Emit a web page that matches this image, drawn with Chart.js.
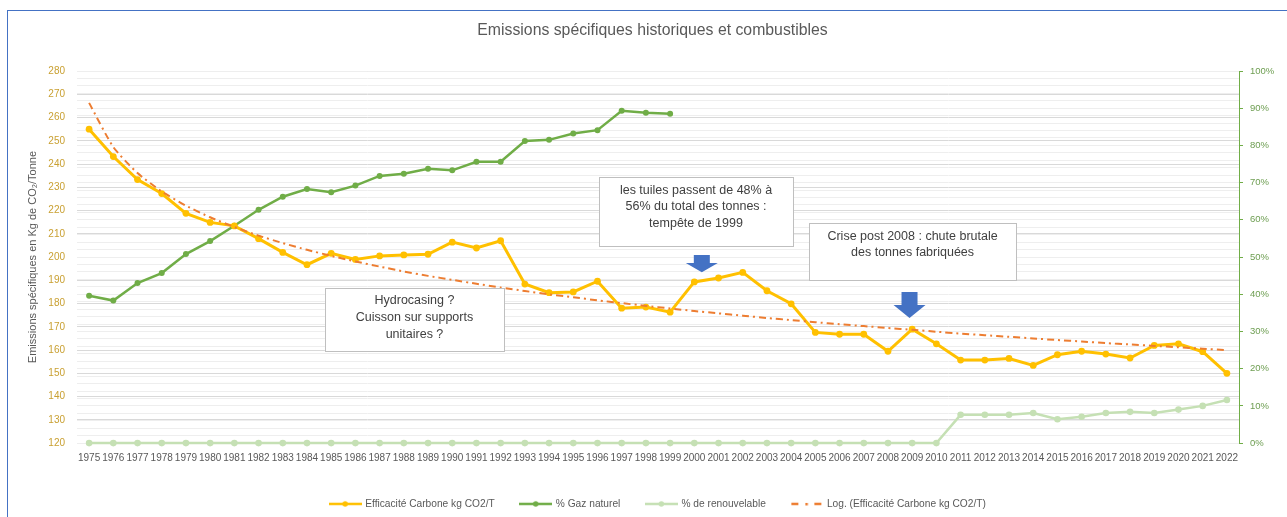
<!DOCTYPE html>
<html><head><meta charset="utf-8">
<script src="https://cdn.jsdelivr.net/npm/chart.js@4"></script>
<style>
html,body{margin:0;padding:0;background:#fff;overflow:hidden;}
#wrap{position:relative;width:1287px;height:517px;overflow:hidden;}
#frame{position:absolute;left:7px;top:10px;width:1400px;height:600px;border-left:1.5px solid #4472C4;border-top:1.5px solid #4472C4;pointer-events:none;}
canvas{position:absolute;left:0;top:0;}
</style></head><body>
<div id="wrap"><canvas id="c" width="1287" height="519"></canvas><div id="frame"></div></div>
<script>
const years = ['1975','1976','1977','1978','1979','1980','1981','1982','1983','1984','1985','1986','1987','1988','1989','1990','1991','1992','1993','1994','1995','1996','1997','1998','1999','2000','2001','2002','2003','2004','2005','2006','2007','2008','2009','2010','2011','2012','2013','2014','2015','2016','2017','2018','2019','2020','2021','2022'];

const carbone = [255,243.2,233.3,227.3,218.8,214.9,213.4,207.9,202,196.7,201.6,199,200.5,200.9,201.2,206.4,203.9,207,188.4,184.7,185,189.6,178,178.5,176.3,189.3,191,193.4,185.5,179.9,167.6,166.8,166.8,159.5,169,162.7,155.7,155.7,156.4,153.4,158,159.5,158.3,156.6,162,162.7,159.3,150];

const gazNaturel = [39.6,38.3,43,45.7,50.8,54.3,58.4,62.7,66.2,68.3,67.4,69.2,71.8,72.4,73.7,73.3,75.6,75.6,81.2,81.5,83.2,84.1,89.3,88.8,88.5,null,null,null,null,null,null,null,null,null,null,null,null,null,null,null,null,null,null,null,null,null,null,null];

const renouvelable = [0,0,0,0,0,0,0,0,0,0,0,0,0,0,0,0,0,0,0,0,0,0,0,0,0,0,0,0,0,0,0,0,0,0,0,0,7.6,7.6,7.6,8.1,6.4,7.1,8.1,8.4,8.1,9,10,11.6];

const tendanceLog = [266.3,247.3,236.1,228.2,222.1,217.1,212.9,209.2,206.0,203.1,200.5,198.1,195.9,193.8,191.9,190.2,188.5,186.9,185.4,184.0,182.7,181.4,180.2,179.0,177.9,176.8,175.8,174.8,173.8,172.9,172.0,171.1,170.3,169.5,168.7,167.9,167.1,166.4,165.7,165.0,164.3,163.7,163.0,162.4,161.8,161.2,160.6,160.0];

const seriesNames = ['Efficacité Carbone kg CO2/T','% Gaz naturel','% de renouvelable','Log. (Efficacité Carbone kg CO2/T)'];
const leftTitle = 'Emissions spécifiques en Kg de CO₂/Tonne';
const rightTitle = 'Part de chaque énergie';
const chartTitle = 'Emissions spécifiques historiques et combustibles';

const notes = [
  {x0:9.74, x1:17.14, y0:186.7, y1:159.6, lines:['Hydrocasing ?','Cuisson sur supports','unitaires ?']},
  {x0:21.06, x1:29.08, y0:234.4, y1:204.7, lines:['les tuiles passent de 48% à','56% du total des tonnes :','tempête de 1999']},
  {x0:29.74, x1:38.29, y0:214.6, y1:190.1, lines:['Crise post 2008 : chute brutale','des tonnes fabriquées']}
];
const arrows = [
  {x:25.31, top:200.9, base:197.4, tip:193.5},
  {x:33.89, top:185.0, base:179.4, tip:173.8}
];

const FONT = "'Liberation Sans', Arial, sans-serif";
Chart.defaults.font.family = FONT;

const C_ORANGE = '#FFC000', C_GREEN = '#70AD47', C_LIGHT = '#C5E0B4', C_TREND = '#ED7D31';

function icon(color, dash){
  const c = document.createElement('canvas'); c.width = 33; c.height = 8;
  const g = c.getContext('2d');
  g.strokeStyle = color; g.lineWidth = 2.5;
  if (dash) {
    g.beginPath();
    g.moveTo(1,4); g.lineTo(8,4);
    g.moveTo(24,4); g.lineTo(31,4);
    g.stroke();
    g.fillStyle = color; g.fillRect(15,3,2.5,2.5);
  } else {
    g.beginPath(); g.moveTo(0,4); g.lineTo(33,4); g.stroke();
    g.fillStyle = color; g.beginPath(); g.arc(16.5,4,2.7,0,Math.PI*2); g.fill();
  }
  return c;
}
const icons = [icon(C_ORANGE), icon(C_GREEN), icon(C_LIGHT), icon(C_TREND,true)];

const annot = {
  id:'annot',
  afterDatasetsDraw(chart){
    const ctx = chart.ctx, xs = chart.scales.x, ys = chart.scales.y;
    ctx.save();
    notes.forEach(n=>{
      const l = xs.getPixelForValue(n.x0), r = xs.getPixelForValue(n.x1);
      const t = ys.getPixelForValue(n.y0), b = ys.getPixelForValue(n.y1);
      ctx.fillStyle = '#fff'; ctx.fillRect(l,t,r-l,b-t);
      ctx.strokeStyle = '#BFBFBF'; ctx.lineWidth = 1;
      ctx.strokeRect(Math.round(l)+0.5, Math.round(t)+0.5, Math.round(r-l), Math.round(b-t));
      ctx.fillStyle = '#404040'; ctx.font = '12.5px ' + FONT;
      ctx.textAlign = 'center'; ctx.textBaseline = 'middle';
      n.lines.forEach((s,i)=>ctx.fillText(s, (l+r)/2, t + 13 + i*16.7));
    });
    arrows.forEach(a=>{
      const cx = xs.getPixelForValue(a.x);
      const t = ys.getPixelForValue(a.top), bs = ys.getPixelForValue(a.base), tp = ys.getPixelForValue(a.tip);
      ctx.fillStyle = '#4472C4';
      ctx.beginPath();
      ctx.moveTo(cx-8,t); ctx.lineTo(cx+8,t); ctx.lineTo(cx+8,bs); ctx.lineTo(cx+16,bs);
      ctx.lineTo(cx,tp); ctx.lineTo(cx-16,bs); ctx.lineTo(cx-8,bs); ctx.closePath(); ctx.fill();
    });
    ctx.restore();
  },
  afterDraw(chart){
    const ctx = chart.ctx, ca = chart.chartArea;
    const mid = (ca.top + ca.bottom)/2;
    ctx.save();
    ctx.fillStyle = '#595959'; ctx.font = '15.8px ' + FONT;
    ctx.textAlign = 'center'; ctx.textBaseline = 'middle';
    ctx.fillText(chartTitle, 652.5, 30.5);
    ctx.font = '11px ' + FONT;
    ctx.translate(33, mid); ctx.rotate(-Math.PI/2); ctx.fillText(leftTitle, 0, 0);
    ctx.restore();
    ctx.save();
    ctx.fillStyle = '#595959'; ctx.font = '11px ' + FONT;
    ctx.textAlign = 'center'; ctx.textBaseline = 'middle';
    ctx.translate(1291.5, mid); ctx.rotate(-Math.PI/2); ctx.fillText(rightTitle, 0, 0);
    ctx.restore();
  }
};

new Chart(document.getElementById('c'), {
  type:'line',
  data:{
    labels: years,
    datasets:[
      {label:seriesNames[0], data:carbone, yAxisID:'y', borderColor:C_ORANGE, backgroundColor:C_ORANGE, borderWidth:3, pointRadius:3.4, pointBorderWidth:0, pointBackgroundColor:C_ORANGE, tension:0, order:1, clip:false},
      {label:seriesNames[1], data:gazNaturel, yAxisID:'y1', borderColor:C_GREEN, backgroundColor:C_GREEN, borderWidth:2.5, pointRadius:3, pointBorderWidth:0, pointBackgroundColor:C_GREEN, tension:0, order:2, clip:false, spanGaps:false},
      {label:seriesNames[2], data:renouvelable, yAxisID:'y1', borderColor:C_LIGHT, backgroundColor:C_LIGHT, borderWidth:2.5, pointRadius:3.3, pointBorderWidth:0, pointBackgroundColor:C_LIGHT, tension:0, order:3, clip:false},
      {label:seriesNames[3], data:tendanceLog, yAxisID:'y', borderColor:C_TREND, backgroundColor:C_TREND, borderWidth:2, borderDash:[7,4,2,4], pointRadius:0, tension:0.2, order:0, clip:false}
    ]
  },
  options:{
    responsive:false, animation:false,
    layout:{padding:{top:71, left:0, right:0, bottom:0}},
    plugins:{
      title:{display:false},
      legend:{position:'bottom', fullSize:false,
        labels:{usePointStyle:true, pointStyleWidth:30, boxHeight:8, padding:26, font:{size:10.2}, color:'#595959',
          generateLabels:(chart)=>chart.data.datasets.map((ds,i)=>({text:ds.label, pointStyle:icons[i], datasetIndex:i, hidden:false, fillStyle:'rgba(0,0,0,0)', strokeStyle:'rgba(0,0,0,0)', lineWidth:0, fontColor:'#595959'}))
        }
      },
      tooltip:{enabled:false}
    },
    scales:{
      x:{offset:true, grid:{display:false}, border:{display:false},
         ticks:{color:'#595959', font:{size:10}, padding:1.5, autoSkip:false, maxRotation:0, minRotation:0},
         afterFit:(s)=>{s.height=29.7;}},
      y:{position:'left', min:120, max:280,
         ticks:{stepSize:10, color:'#C9A032', font:{size:10}, padding:12},
         grid:{color:'#D9D9D9', drawTicks:false, lineWidth:1},
         border:{display:false},
         afterFit:(s)=>{s.width=77;}},
      y1:{position:'right', min:0, max:100,
         ticks:{stepSize:2, maxTicksLimit:100, autoSkip:false, color:'#6E9E52', font:{size:9.5}, padding:7,
                callback:(v)=> (Math.round(v)%10===0 ? Math.round(v)+'%' : '')},
         grid:{color:'#EEEEEE', z:-1, tickLength:4,
               tickColor:(c)=> (c.tick && Math.round(c.tick.value)%10===0 ? C_GREEN : 'rgba(0,0,0,0)')},
         border:{display:true, color:C_GREEN, width:1},
         afterFit:(s)=>{s.width=48;}}
    }
  },
  plugins:[annot]
});
</script>
</body></html>
